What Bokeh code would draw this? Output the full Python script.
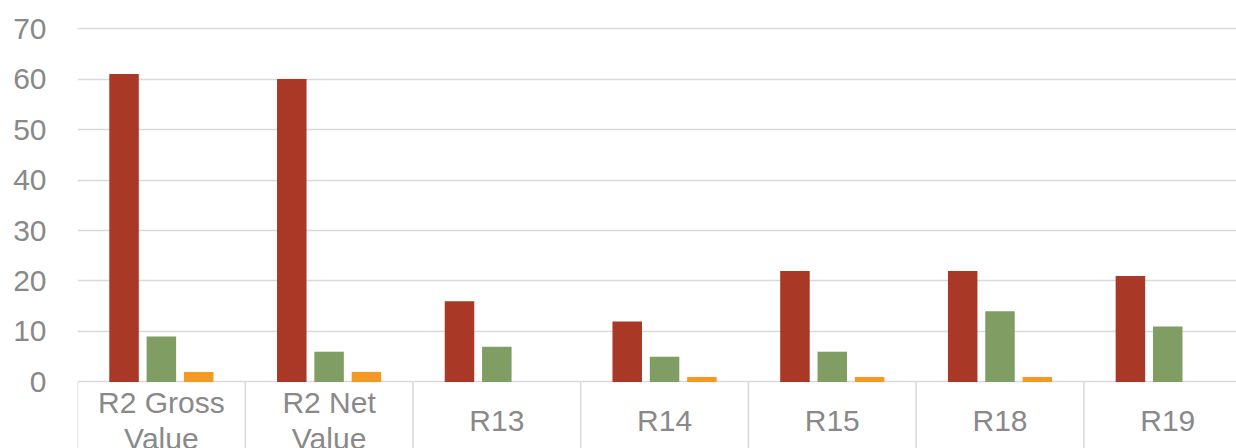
from bokeh.plotting import figure
from bokeh.models import ColumnDataSource, FixedTicker, Range1d
from bokeh.transform import dodge
from bokeh.core.properties import value
from bokeh.embed import file_html
from bokeh.resources import INLINE

categories = ["R2 Gross\nValue", "R2 Net\nValue", "R13", "R14", "R15", "R18", "R19"]
series_a = [61, 60, 16, 12, 22, 22, 21]
series_b = [9, 6, 7, 5, 6, 14, 11]
series_c = [2, 2, 0, 1, 1, 1, 0]
y_ticks = [0, 10, 20, 30, 40, 50, 60, 70]

colors = ["#A93827", "#809E64", "#F29A25"]
grid_color = "#d9d9d9"
text_color = "#898989"
font = "Liberation Sans"

n = len(categories)
pos = list(range(n))
src = ColumnDataSource(dict(x=pos, a=series_a, b=series_b, c=series_c, lab=categories))

y_bottom = -13.17   # category-label band below zero
label_y = -7.6

p = figure(width=1236, height=448, output_backend="svg", toolbar_location=None,
           x_range=Range1d(-0.5, 6.41), y_range=Range1d(y_bottom, 70.2),
           min_border_left=77, min_border_right=0, min_border_top=27, min_border_bottom=0)
p.outline_line_color = None
p.background_fill_color = "white"
p.xaxis.visible = False
p.xgrid.grid_line_color = None

p.ygrid.ticker = FixedTicker(ticks=y_ticks)
p.ygrid.grid_line_color = grid_color
p.ygrid.grid_line_width = 1.5

# category separators
bounds = [i - 0.5 for i in range(n + 1)]
p.segment(x0=bounds, y0=[0] * len(bounds), x1=bounds, y1=[y_bottom] * len(bounds),
          line_color=grid_color, line_width=1.5)

w = 0.176
off = 0.2225
for col, dx, c in (("a", -off, colors[0]), ("b", 0, colors[1]), ("c", off, colors[2])):
    p.vbar(x=dodge("x", dx), top=col, width=w, source=src, fill_color=c,
           line_color=None)

p.text(x="x", y=label_y, text="lab", source=src, text_font=value(font),
       text_font_size="30px", text_color=text_color, text_align="center",
       text_baseline="middle", text_line_height=1.1)

p.yaxis.ticker = FixedTicker(ticks=y_ticks)
p.yaxis.axis_line_color = None
p.yaxis.major_tick_line_color = None
p.yaxis.minor_tick_line_color = None
p.yaxis.major_label_standoff = 25
p.yaxis.major_label_text_font = font
p.yaxis.major_label_text_font_size = "30px"
p.yaxis.major_label_text_color = text_color

open("out.html", "w").write(file_html(p, INLINE))
